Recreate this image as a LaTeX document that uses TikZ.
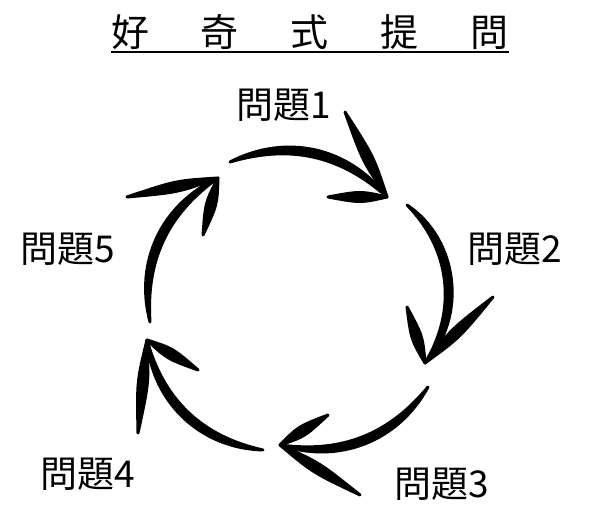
\documentclass[tikz,border=0pt]{standalone}
\usepackage{fontspec}
\setmainfont{Noto Sans CJK TC}
\usepackage{tikz}
\usetikzlibrary{calc}

\tikzset{
  brush/.style={fill=black, draw=black, line width=3pt, line join=round},
  qtext/.style={font=\fontsize{37}{40}\selectfont, inner sep=0pt},
  titletext/.style={font=\fontsize{38}{40}\selectfont, inner sep=0pt}
}

\begin{document}
\begin{tikzpicture}[x=1pt,y=1pt]
      \useasboundingbox (0,0) rectangle (600,514);

      % Title and its underline
      \node[titletext] (title) at (310,482) {好\hspace{52pt}奇\hspace{52pt}式\hspace{52pt}提\hspace{52pt}問};
      \draw[line width=2pt] ([yshift=-2pt]title.south west) -- ([yshift=-2pt]title.south east);

      % start (s), tip (t) and the two barbs (a outside, b inside) of each arrow
      \coordinate (s1) at (230,352); \coordinate (t1) at (387,317);
      \coordinate (a1) at (345,402); \coordinate (b1) at (328,317);
      \coordinate (s2) at (407,309); \coordinate (t2) at (425,151);
      \coordinate (a2) at (493,217); \coordinate (b2) at (407,207);
      \coordinate (s3) at (428,127); \coordinate (t3) at (280,69);
      \coordinate (a3) at (360,19);  \coordinate (b3) at (328,99);
      \coordinate (s4) at (263,64);  \coordinate (t4) at (147,174);
      \coordinate (a4) at (138,81);  \coordinate (b4) at (198,144);
      \coordinate (s5) at (150,192); \coordinate (t5) at (218,336);
      \coordinate (a5) at (127,317); \coordinate (b5) at (203,279);

      % Draw the brush arrows around the circle
      \foreach \i/\bo/\bi in {1/40/29, 2/50/38, 3/40/29, 4/42/31, 5/40/29} {
        \filldraw[brush] (s\i) to[bend left=\bo] (t\i) to[bend right=\bi] (s\i) -- cycle;
        \foreach \p in {a,b} {
          \filldraw[brush] (t\i) .. controls ($(t\i)!0.45!(\p\i)!6pt!90:(\p\i)$) .. (\p\i)
            .. controls ($(t\i)!0.45!(\p\i)!6pt!-90:(\p\i)$) .. (t\i) -- cycle;
        }
      }

      % Labels of the questions
      \node[qtext] (q1) at (284,409) {問題1};
      \node[qtext] (q2) at (515,265) {問題2};
      \node[qtext] (q3) at (442,30) {問題3};
      \node[qtext] (q4) at (88,40) {問題4};
      \node[qtext] (q5) at (68,265) {問題5};
    \end{tikzpicture}
\end{document}
